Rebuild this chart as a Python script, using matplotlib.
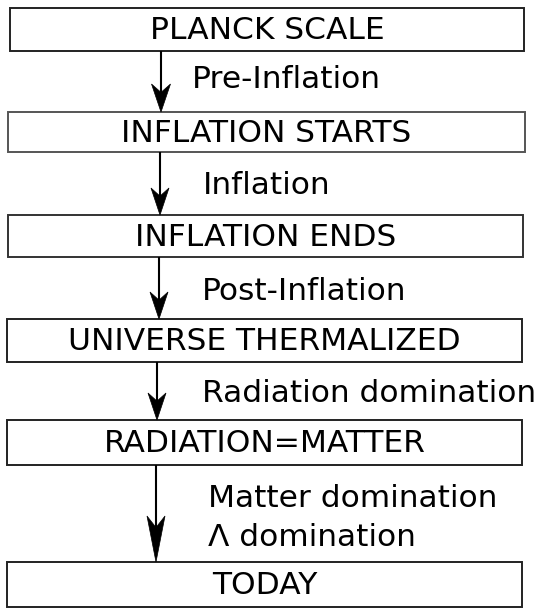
import matplotlib
matplotlib.use("Agg")
import matplotlib.pyplot as plt
from matplotlib.patches import Rectangle, Polygon

# Stages (boxes) and transitions (arrow labels)
stages = ["PLANCK SCALE", "INFLATION STARTS", "INFLATION ENDS",
          "UNIVERSE THERMALIZED", "RADIATION=MATTER", "TODAY"]
transitions = ["Pre-Inflation", "Inflation", "Post-Inflation",
               "Radiation domination", "Matter domination\n\u039b domination"]

# layout (pixel coordinates, y downwards)
box_x0 = [10, 8, 8, 7, 7, 7]
box_x1 = [524, 525, 523, 522, 522, 522]
box_y0 = [8, 112, 215, 319, 420, 562]
box_y1 = [51, 152, 257, 362, 465, 607]
box_edge = ["#222222", "#555555", "#333333", "#222222", "#222222", "#222222"]
arrow_x = [161, 160, 159, 157, 156]
label_x = [192, 203, 202, 202, 208]
label_y = [80, 185, 292, 393, 518]
head_len = [28, 27, 27, 27, 46]
head_w = [19, 18, 18, 18, 18]

W, H = 539, 608
fig = plt.figure(figsize=(W / 100, H / 100), dpi=100)
ax = fig.add_axes([0, 0, 1, 1])
ax.set_xlim(0, W)
ax.set_ylim(H, 0)
ax.axis("off")

FS = 22.5
for i, s in enumerate(stages):
    ax.add_patch(Rectangle((box_x0[i], box_y0[i]), box_x1[i] - box_x0[i],
                           box_y1[i] - box_y0[i], fill=False,
                           edgecolor=box_edge[i], linewidth=1.4))
    ax.text((box_x0[i] + box_x1[i]) / 2, (box_y0[i] + box_y1[i]) / 2 + 1, s,
            ha="center", va="center", fontsize=FS, family="DejaVu Sans")

for i, t in enumerate(transitions):
    x = arrow_x[i]
    y0 = box_y1[i]
    y1 = box_y0[i + 1]
    L = head_len[i]
    w = head_w[i]
    notch = 0.70 if i < 4 else 0.75
    ax.plot([x, x], [y0, y1 - L * 0.6], color="black", linewidth=1.5,
            solid_capstyle="butt")
    ax.add_patch(Polygon([(x, y1), (x - w / 2, y1 - L), (x, y1 - L * notch),
                          (x + w / 2, y1 - L)], closed=True,
                         facecolor="black", edgecolor="black", linewidth=0.5))
    ax.text(label_x[i], label_y[i], t, ha="left", va="center",
            fontsize=FS, family="DejaVu Sans", linespacing=1.42)

fig.savefig("out.png", dpi=100)
